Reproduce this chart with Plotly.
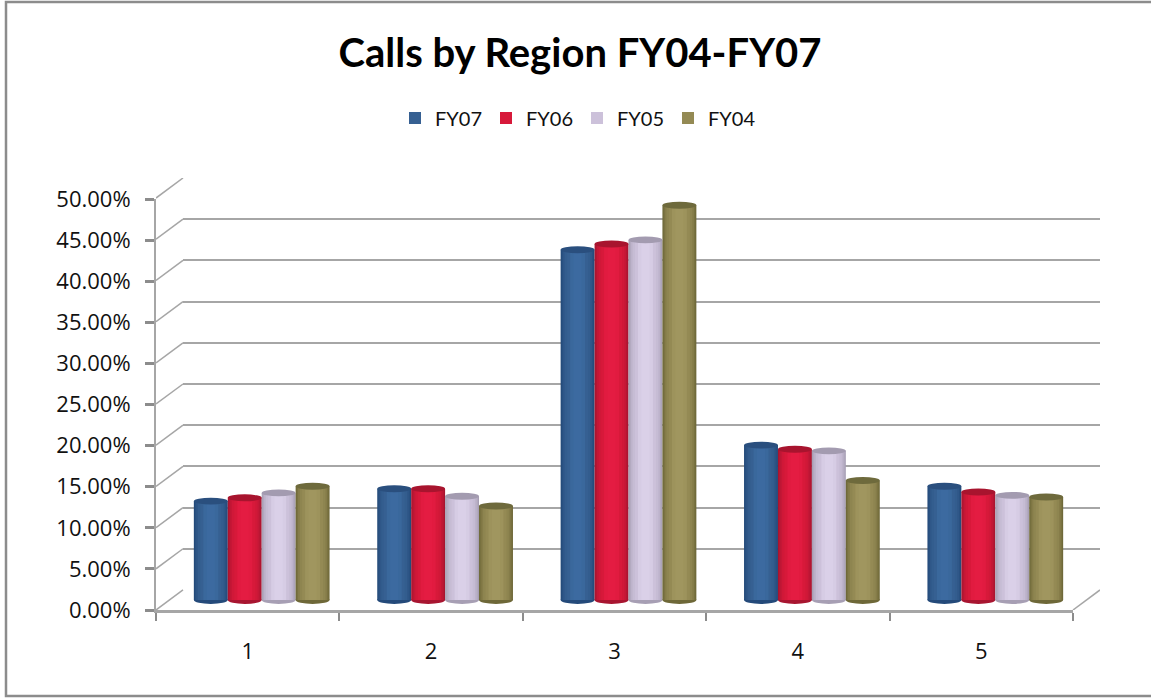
import plotly.graph_objects as go

regions = [1, 2, 3, 4, 5]
tick_values = [0, .05, .10, .15, .20, .25, .30, .35, .40, .45, .50]
FY07 = [.120, .135, .425, .188, .138]
FY06 = [.124, .135, .432, .183, .131]
FY05 = [.130, .126, .437, .181, .127]
FY04 = [.138, .114, .479, .145, .125]
series_names = ["FY07", "FY06", "FY05", "FY04"]
series_values = [FY07, FY06, FY05, FY04]
base_colors = ["#366092", "#D7193A", "#CCC1DA", "#948A54"]
edge_colors = ["#244A7A", "#A81530", "#A79FB4", "#6E6838"]
light_colors = ["#3C6AA0", "#E41C42", "#DAD0E8", "#A0965F"]
cap_colors = ["#2A4F7E", "#A8142E", "#A39BB0", "#6E6A3C"]

W, H = 1151, 698
GRID = "#A6A6A6"
FONT = "Open Sans, sans-serif"

def px_x(a, b):
    return [a / W, b / W]

def px_y(bottom, top):
    return [1 - bottom / H, 1 - top / H]

def mix(c1, c2, t):
    a = [int(c1[i:i + 2], 16) for i in (1, 3, 5)]
    b = [int(c2[i:i + 2], 16) for i in (1, 3, 5)]
    return "rgb(%d,%d,%d)" % tuple(round(p + (q - p) * t) for p, q in zip(a, b))

fig = go.Figure()

# invisible traces so that the back wall's and the front axes are drawn
fig.add_trace(go.Scatter(x=regions[:1], y=tick_values[:1], xaxis="x", yaxis="y", mode="none",
                         showlegend=False, hoverinfo="skip"))

# outer frame
fig.add_shape(type="rect", xref="paper", yref="paper", layer="below",
              x0=6 / W, x1=1.02, y0=1 - 696 / H, y1=1 - 2 / H,
              line=dict(color="#8C8C8C", width=2.5), fillcolor="white")

# cylinders: nested strips give the round shading
BAR_W = 0.185
PX_PER_UNIT = 824.0
FOOT = .0048
strips = [(1.0, 0.0), (0.94, 0.3), (0.86, 0.6), (0.76, 0.85), (0.62, 1.0),
          (0.44, 1.25), (0.24, 1.5)]
for s, (name, vals) in enumerate(zip(series_names, series_values)):
    xs = [r + (s - 1.5) * BAR_W for r in regions]
    for k, (frac, t) in enumerate(strips):
        if t <= 1:
            col = mix(edge_colors[s], base_colors[s], t)
        else:
            col = mix(base_colors[s], light_colors[s], t - 1 + 0.5)
        fig.add_trace(go.Bar(x=xs, y=vals, xaxis="x2", yaxis="y2", name=name,
                             width=BAR_W * frac, marker=dict(color=col, line_width=0),
                             showlegend=False, hoverinfo="skip" if k else None,
                             legendgroup=name))
    # legend swatch in the flat series colour
    fig.add_trace(go.Bar(x=xs[:1], y=[None], xaxis="x2", yaxis="y2", name=name,
                         marker=dict(color=base_colors[s], line_width=0), legendgroup=name))
    for x, v in zip(xs, vals):
        fig.add_shape(type="circle", xref="x2", yref="y2", layer="above",
                      x0=x - BAR_W / 2, x1=x + BAR_W / 2, y0=v - .0042, y1=v + .0042,
                      fillcolor=cap_colors[s], line_width=0)
        fig.add_shape(type="circle", xref="x2", yref="y2", layer="below",
                      x0=x - BAR_W / 2, x1=x + BAR_W / 2, y0=-FOOT, y1=FOOT,
                      fillcolor=edge_colors[s], line_width=0)

fig.add_trace(go.Scatter(x=regions[:1], y=tick_values[:1], xaxis="x3", yaxis="y3", mode="none",
                         showlegend=False, hoverinfo="skip"))

# depth lines of floor and side wall, on axes spanning front to back
DX, DY = 27 / 183.4, 20 / 822.0
depth_x, depth_y = [], []
for v in tick_values:
    depth_x += [0.5, 0.5 + DX, None]
    depth_y += [v, v + DY, None]
depth_x += [5.5, 5.5 + DX, None]
depth_y += [0, DY, None]
fig.add_trace(go.Scatter(x=depth_x, y=depth_y, xaxis="x4", yaxis="y4", mode="lines",
                         line=dict(color=GRID, width=1.5), cliponaxis=False,
                         showlegend=False, hoverinfo="skip"))

fig.update_layout(
    width=W, height=H, margin=dict(l=0, r=0, t=0, b=0, autoexpand=False),
    paper_bgcolor="white", plot_bgcolor="rgba(0,0,0,0)",
    barmode="overlay",
    font=dict(family=FONT, color="#111111"),
    title=dict(text="<b>Calls by Region FY04-FY07</b>", x=580 / W, xanchor="center",
               y=1 - 53 / H, yanchor="middle",
               font=dict(family="Lato, sans-serif", size=40, color="black")),
    legend=dict(orientation="h", x=577 / W, xanchor="center", y=1 - 118 / H, yanchor="middle",
                font=dict(size=20, family="Lato, sans-serif", color="#111111"),
                itemwidth=30, traceorder="normal", entrywidth=46, entrywidthmode="pixels"),
    # back wall
    xaxis=dict(domain=px_x(183, 1100), range=[0.5, 5.5], visible=False, anchor="y"),
    yaxis=dict(domain=px_y(590, 178), range=[0, .5], anchor="x", tickvals=tick_values,
               showgrid=True, gridcolor=GRID, gridwidth=2, showticklabels=False,
               zeroline=False, showline=False, ticks=""),
    # bars (range reaches below zero so the round feet are not clipped)
    xaxis2=dict(domain=px_x(170, 1087), range=[0.5, 5.5], visible=False, anchor="y2"),
    yaxis2=dict(domain=px_y(600 + .02 * PX_PER_UNIT, 188), range=[-.02, .5], visible=False, anchor="x2"),
    # front axes
    xaxis3=dict(domain=px_x(156, 1073), range=[0.5, 5.5], anchor="y3", tickvals=regions,
                ticks="", showgrid=False, zeroline=False, showline=True,
                linecolor=GRID, linewidth=3, ticklabelstandoff=20,
                tickfont=dict(size=22, family=FONT, color="#111111"),
                minor=dict(tickvals=[0.5, 1.5, 2.5, 3.5, 4.5, 5.5], ticks="outside",
                           ticklen=8, tickwidth=2, tickcolor="#8C8C8C")),
    yaxis3=dict(domain=px_y(610, 199), range=[0, .5], anchor="x3", tickvals=tick_values,
                tickformat=".2%", ticks="outside", ticklen=9, tickwidth=2.5,
                tickcolor="#8C8C8C", showgrid=False, zeroline=False, showline=True,
                linecolor=GRID, linewidth=2, ticklabelstandoff=10,
                tickfont=dict(size=22, family=FONT, color="#111111")),
    xaxis4=dict(domain=px_x(156, 1100), range=[0.5, 5.5 + DX], visible=False, anchor="y4"),
    yaxis4=dict(domain=px_y(610, 178), range=[0, .5 + DY], visible=False, anchor="x4"),
)
fig.write_html("out.html", config={"displayModeBar": False},
               post_script="document.body.style.margin='0';document.documentElement.style.overflow='hidden';")
